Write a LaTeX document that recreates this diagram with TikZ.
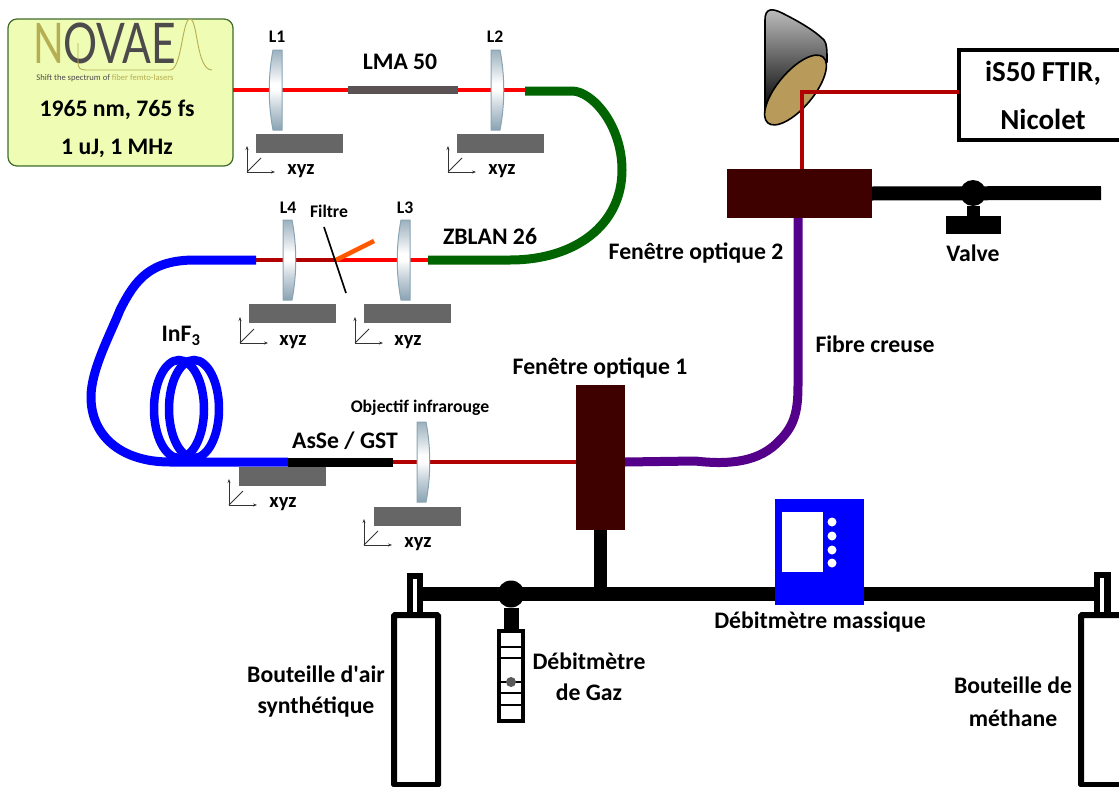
\documentclass[tikz,border=0pt]{standalone}
\usepackage{fontspec}
\setmainfont{Carlito}
\newfontfamily\logofont{Lato}
\usetikzlibrary{arrows.meta,shapes.geometric}
\definecolor{laserfill}{HTML}{EFFCB4}
\definecolor{laseredge}{HTML}{3F6B2B}
\definecolor{beamred}{HTML}{FF0000}
\definecolor{darkbeam}{HTML}{B00000}
\definecolor{stagegrey}{HTML}{666666}
\definecolor{barbrown}{HTML}{5B5353}
\definecolor{fibregreen}{HTML}{006400}
\definecolor{fibreblue}{HTML}{0000FF}
\definecolor{fibrepurple}{HTML}{55008A}
\definecolor{windowred}{HTML}{3F0000}
\definecolor{logoolive}{HTML}{B5AE52}
\definecolor{logogrey}{HTML}{4D4A4C}
\definecolor{lensedge}{HTML}{8AA3B3}
\definecolor{mirrortan}{HTML}{B89A5A}
\pgfdeclareverticalshading{lensshade}{100bp}{color(0bp)=(lensedge);color(25bp)=(lensedge);color(40bp)=(lensedge!45!white);color(50bp)=(white);color(54bp)=(white);color(66bp)=(lensedge!50!white);color(75bp)=(lensedge!85!white);color(100bp)=(lensedge!85!white)}
\tikzset{
  x=1pt,y=-1pt,
  lab/.style={font=\bfseries\fontsize{23.7}{26}\selectfont,inner sep=0pt,align=center},
  ftirlab/.style={font=\bfseries\fontsize{29}{31}\selectfont,inner sep=0pt,align=center},
  smalllab/.style={font=\bfseries\fontsize{17.7}{19}\selectfont,inner sep=0pt},
  xyzlab/.style={font=\bfseries\fontsize{20.5}{22}\selectfont,inner sep=0pt},
  stagebox/.style={fill=stagegrey,draw=none,minimum width=87,minimum height=19,inner sep=0,outer sep=0},
  windowbox/.style={fill=windowred,draw=none,inner sep=0,outer sep=0},
  redbeam/.style={line width=4.5,draw=beamred},
  darkredbeam/.style={line width=4,draw=darkbeam},
  fibre/.style={line width=9,line join=round},
  tube/.style={line width=14,draw=black},
  lensbody/.style={draw=lensedge,line width=1,shading=lensshade},
  lensL/.pic={\path[lensbody] (-3,-40) -- (6,-40) -- (6,40) -- (-3,40) .. controls (-8,14) and (-8,-14) .. (-3,-40) -- cycle;},
  lensR/.pic={\path[lensbody] (-6,-40) -- (3,-40) .. controls (8,-14) and (8,14) .. (3,40) -- (-6,40) -- cycle;},
  axesxyz/.pic={\draw[line width=.8,black!80,-{Stealth[length=4pt,width=3pt]}] (0,0) -- (28,0);
                \draw[line width=.8,black!80,-{Stealth[length=4pt,width=3pt]}] (0,0) -- (0,-26);
                \draw[line width=.8,black!80] (0,0) -- (14,-14);},
}
\begin{document}
\begin{tikzpicture}
\path[use as bounding box] (0,0) rectangle (1119,787);

% named anchors
\coordinate (b1) at (233,90);
\coordinate (b2) at (348,90);
\coordinate (b3) at (458,90);
\coordinate (g1) at (525,91);
\coordinate (g2) at (428,260);
\coordinate (f0) at (336,260);
\coordinate (bl1) at (256,260);
\coordinate (bl2) at (288,462);
\coordinate (as2) at (393,462);

% laser
\node[draw=laseredge,line width=1.2,fill=laserfill,rounded corners=9,minimum width=225,minimum height=147,inner sep=0,outer sep=0] (laser) at (120.5,92.5) {};
\node[anchor=west,inner sep=0,text=logoolive,font=\logofont\fontsize{56}{58}\selectfont] (logoN) at (33,43) {\scalebox{.72}[1]{N}};
\node[anchor=west,inner sep=0,text=logogrey,font=\logofont\fontsize{56}{58}\selectfont] (logoO) at (63,43) {\scalebox{.76}[1]{OVAE}};
\draw[logoolive,line width=.9] (78,43) -- (78,62) .. controls (78,68) and (80,70) .. (86,70) -- (170,70) .. controls (182,70) and (182,19) .. (190,19) .. controls (198,19) and (196,70) .. (212,70);
\node[inner sep=0,font=\fontsize{8.6}{10}\selectfont,text=logogrey] (tag) at (105,78) {Shift the spectrum of \textcolor{logoolive}{fiber femto-lasers}};
\node[lab] (spec1) at (117,110) {1965 nm, 765 fs};
\node[lab] (spec2) at (117,148) {1 uJ, 1 MHz};

% upper beam line
\draw[redbeam] (b1) -- (b2);
\draw[redbeam] (b3) -- (g1 |- b3);
\fill[barbrown] (348,86) rectangle (458,94);
\pic at (276,90) {lensL};
\pic at (497,90) {lensR};
\node[smalllab] (l1) at (277,37) {L1};
\node[smalllab] (l2) at (495,37) {L2};
\node[lab] (lma) at (400,62) {LMA 50};
\node[stagebox] (s1) at (299.5,143.5) {};
\node[stagebox] (s2) at (500.5,143.5) {};
\pic at (247,172) {axesxyz};
\pic at (448,172) {axesxyz};
\node[xyzlab] (x1) at (301,171) {xyz};
\node[xyzlab] (x2) at (502,171) {xyz};

% ZBLAN fibre
\draw[fibre,fibregreen] (g1) -- (572,91) .. controls (592,91) and (622,125) .. (622,170) .. controls (622,225) and (575,260) .. (510,260) -- (g2);
\node[lab] (zblan) at (490,236) {ZBLAN 26};

% second beam line
\draw[redbeam] (g2) -- (f0);
\draw[line width=4.5,draw=darkbeam] (f0) -- (bl1);
\draw[line width=4.5,draw=orange!70!red] (f0) -- (374,241);
\draw[line width=1.6] (324,227) -- (346,293);
\pic at (289,260) {lensR};
\pic at (404,260) {lensL};
\node[smalllab] (l4) at (288,208) {L4};
\node[smalllab] (l3) at (405,208) {L3};
\node[smalllab] (filtre) at (329,211) {Filtre};
\node[stagebox] (s4) at (292,313.5) {};
\node[stagebox] (s3) at (407.5,313.5) {};
\pic at (240,343) {axesxyz};
\pic at (355,343) {axesxyz};
\node[xyzlab] (x4) at (293,342) {xyz};
\node[xyzlab] (x3) at (408,342) {xyz};

% InF3 fibre and coil
\node[stagebox] (s5) at (282,476.5) {};
\draw[fibre,fibreblue] (bl1) -- (195,260) .. controls (150,260) and (135,280) .. (120,310) .. controls (110,335) and (91,370) .. (91,397) .. controls (91,435) and (120,462) .. (170,462) -- (bl2);
\draw[fibreblue,line width=8.5] (179,409) ellipse [x radius=25,y radius=49];
\draw[fibreblue,line width=8.5] (194,409) ellipse [x radius=25,y radius=49];
\node[lab] (inf) at (181,336) {InF$_{\mathbf 3}$};

% AsSe fibre and objective
\draw[line width=9,black] (bl2) -- (as2);
\node[lab] (asse) at (345,441) {AsSe / GST};
\node[windowbox,minimum width=49,minimum height=145] (win1) at (600.5,457.5) {};
\draw[darkredbeam] (as2) -- (win1.west |- as2);
\pic at (423,462) {lensR};
\node[smalllab] (obj) at (420,408) {Objectif infrarouge};
\node[stagebox] (s6) at (417,516) {};
\pic at (229,505) {axesxyz};
\pic at (364,545) {axesxyz};
\node[xyzlab] (x5) at (283,504) {xyz};
\node[xyzlab] (x6) at (418,544) {xyz};
\node[lab] (win1lab) at (600,368) {Fenêtre optique 1};

% hollow fibre
\node[windowbox,minimum width=145,minimum height=49] (win2) at (799.5,193.5) {};
\draw[fibre,fibrepurple] (win1.east |- as2) -- (695,461) .. controls (730,465) and (760,462) .. (780,440) .. controls (795,425) and (798,410) .. (798,385) -- (798,218);
\node[lab] (fcr) at (875,344) {Fibre creuse};
\node[lab] (win2lab) at (696,253) {Fenêtre optique 2};

% parabolic mirror
\path[draw=black,line width=1.6,top color=black!25,bottom color=black] (765,112) -- (765,20) .. controls (765,8) and (772,8) .. (782,13) .. controls (800,22) and (815,31) .. (824,40) .. controls (827,44) and (827,50) .. (827,62) -- cycle;
\node[ellipse,draw=black,line width=1.6,fill=mirrortan,rotate=50,minimum width=86,minimum height=36,inner sep=0] (mirror) at (795.5,90) {};

% FTIR
\node[draw=black,line width=4,fill=white,minimum width=170,minimum height=90,inner sep=0,outer sep=0] (ftir) at (1044,95) {};
\node[ftirlab] (ftir1) at (1043,73) {iS50 FTIR,};
\node[ftirlab] (ftir2) at (1043,119) {Nicolet};
\coordinate (bend) at (802,92);
\draw[darkredbeam,line join=miter] (win2.north -| bend) -- (bend) -- (ftir.west |- bend);

% exhaust line and valve
\coordinate (vout) at (1101,193);
\draw[tube] (win2.east) -- (vout);
\node[circle,fill=black,minimum size=26,inner sep=0] (valve) at (973,193) {};
\node[fill=black,minimum width=55,minimum height=18,inner sep=0,outer sep=0] (vbar) at (973,225) {};
\draw[line width=13] (valve) -- (vbar);
\node[lab] (vlab) at (973,253) {Valve};

% gas line
\coordinate (gl) at (420,594);
\coordinate (gr) at (1098,594);
\draw[line width=14] (gl) -- (gr);
\draw[line width=13] (win1.south) -- (win1.south |- gl);
\node[circle,fill=black,minimum size=27,inner sep=0] (gv) at (511,594) {};

% left bottle
\node[draw=black,line width=6,fill=white,minimum width=44,minimum height=170,inner sep=0,outer sep=0,rounded corners=1] (air) at (416,700) {};
\fill (407,573) rectangle (423,613);
\fill[white] (413,579) rectangle (417,612);
\node[lab] (airlab1) at (316,674) {Bouteille d\textquotesingle air};
\node[lab] (airlab2) at (316,707) {synthétique};

% right bottle
\node[draw=black,line width=6,fill=white,minimum width=60,minimum height=170,inner sep=0,outer sep=0,rounded corners=1] (ch4) at (1111,700) {};
\fill (1094,572) rectangle (1111,613);
\fill[white] (1100,578) rectangle (1104,612);
\node[lab] (ch4lab1) at (1013,685) {Bouteille de};
\node[lab] (ch4lab2) at (1013,718) {méthane};

% rotameter
\node[draw=black,line width=4.5,fill=white,minimum width=24,minimum height=90,inner sep=0,outer sep=0] (rot) at (511,676) {};
\draw[line width=15] (gv) -- (rot.north);
\foreach \yy in {647,658,682,693,705} \draw[line width=1.3] (499,\yy) -- (523,\yy);
\node[circle,fill=black!65,minimum size=10,inner sep=0] (ball) at (511,682) {};
\node[lab] (rotlab1) at (589,661) {Débitmètre};
\node[lab] (rotlab2) at (589,692) {de Gaz};

% mass flow controller
\node[fill=fibreblue,minimum width=89,minimum height=106,inner sep=0,outer sep=0] (mfc) at (819.5,552) {};
\node[fill=white,minimum width=41,minimum height=60,inner sep=0] (mfcscreen) at (802.5,542) {};
\foreach \yy/\nm in {522/a,536/b,550/c,563/d} \node[circle,fill=white,minimum size=9,inner sep=0] (dot\nm) at (832,\yy) {};
\node[lab] (mfclab) at (820,622) {Débitmètre massique};
\end{tikzpicture}
\end{document}
